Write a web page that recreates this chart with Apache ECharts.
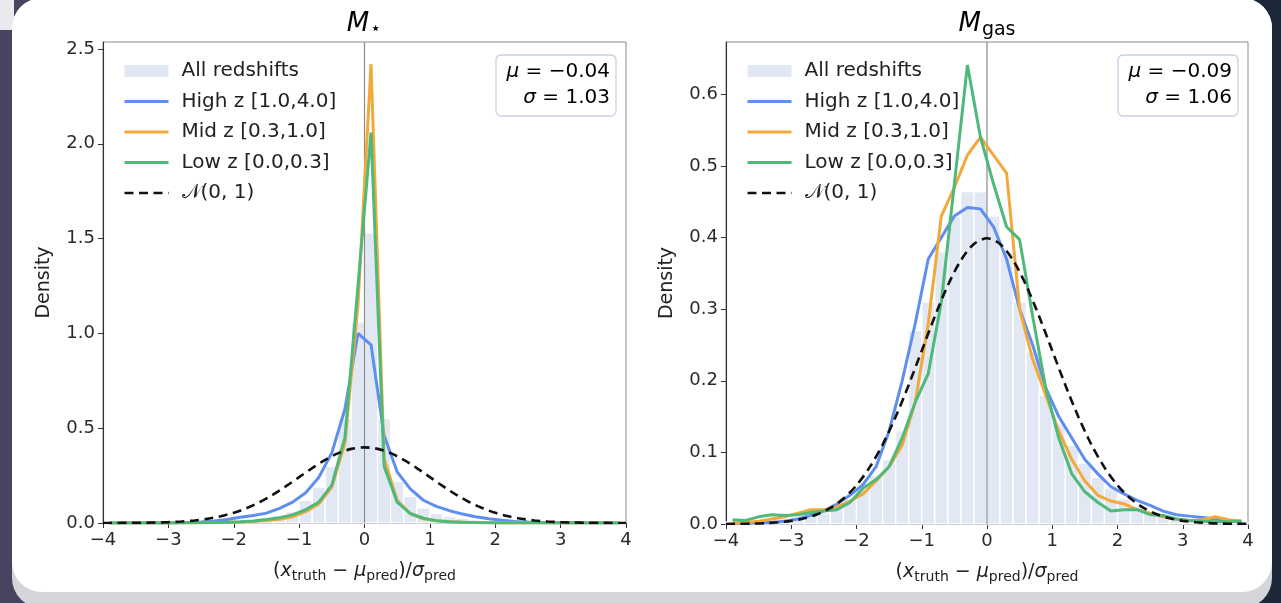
<!DOCTYPE html>
<html><head><meta charset="utf-8">
<script src="https://cdn.jsdelivr.net/npm/echarts@6/dist/echarts.min.js"></script>
<style>
html,body{margin:0;padding:0;width:1281px;height:603px;overflow:hidden;}
body{background:linear-gradient(90deg,#4a4360 0%,#3b3a52 40%,#2a3246 80%,#1c2738 100%);position:relative;}
#tl{position:absolute;left:0;top:0;width:14px;height:30px;background:#e9e9ee;}
#shadow{position:absolute;left:12px;top:-2px;width:1260px;height:610px;background:#d4d5d8;border-radius:30px;}
#card{position:absolute;left:12px;top:-2px;width:1260px;height:594px;background:#fff;border-radius:30px;}
#chart{position:absolute;left:0;top:0;width:1281px;height:603px;}
</style></head>
<body>
<div id="tl"></div><div id="shadow"></div><div id="card"></div>
<div id="chart"></div>
<script>
// ---------- data ----------
const binCenters = [-3.9,-3.7,-3.5,-3.3,-3.1,-2.9,-2.7,-2.5,-2.3,-2.1,-1.9,-1.7,-1.5,-1.3,-1.1,-0.9,-0.7,-0.5,-0.3,-0.1,
                    0.1,0.3,0.5,0.7,0.9,1.1,1.3,1.5,1.7,1.9,2.1,2.3,2.5,2.7,2.9,3.1,3.3,3.5,3.7,3.9];
const binWidth = 0.2;

// M_star panel
const starAll  = [0,0,0,0,0.001,0.001,0.002,0.003,0.005,0.008,0.012,0.018,0.027,0.04,0.06,0.12,0.19,0.30,0.55,1.06,
                  1.53,0.55,0.22,0.14,0.08,0.05,0.035,0.025,0.016,0.01,0.006,0.004,0.003,0.002,0.001,0.001,0,0,0,0];
const starHigh = [0,0,0,0,0,0.001,0.002,0.005,0.01,0.018,0.03,0.04,0.052,0.077,0.11,0.16,0.24,0.37,0.6,1.0,
                  0.94,0.46,0.27,0.18,0.12,0.088,0.065,0.047,0.033,0.022,0.014,0.008,0.005,0.003,0.002,0.001,0.001,0,0,0];
const starMid  = [0,0,0,0,0,0,0,0.001,0.002,0.003,0.005,0.008,0.013,0.02,0.033,0.06,0.1,0.19,0.42,1.15,
                  2.42,0.34,0.12,0.05,0.022,0.012,0.006,0.004,0.002,0.001,0,0,0,0,0,0,0,0,0,0];
const starLow  = [0,0,0,0,0,0,0.001,0.001,0.002,0.004,0.007,0.011,0.018,0.028,0.043,0.07,0.11,0.2,0.45,1.25,
                  2.06,0.30,0.11,0.05,0.025,0.012,0.007,0.004,0.002,0.001,0,0,0,0,0,0,0,0,0,0];

// M_gas panel
const gasAll  = [0.003,0.004,0.006,0.008,0.008,0.01,0.013,0.016,0.024,0.035,0.048,0.068,0.09,0.13,0.27,0.31,0.38,0.43,0.464,0.464,
                 0.43,0.38,0.31,0.24,0.18,0.14,0.11,0.085,0.065,0.05,0.035,0.025,0.018,0.012,0.008,0.006,0.005,0.004,0.003,0.002];
const gasHigh = [0.001,0.001,0.002,0.002,0.004,0.007,0.012,0.018,0.028,0.04,0.055,0.08,0.13,0.2,0.28,0.37,0.40,0.43,0.442,0.44,
                 0.415,0.37,0.30,0.25,0.19,0.15,0.12,0.09,0.07,0.052,0.042,0.033,0.026,0.018,0.013,0.011,0.009,0.007,0.005,0.004];
const gasMid  = [0.001,0.002,0.004,0.007,0.01,0.015,0.02,0.02,0.024,0.032,0.042,0.06,0.08,0.11,0.17,0.28,0.43,0.47,0.515,0.54,
                 0.515,0.49,0.30,0.23,0.18,0.13,0.09,0.06,0.04,0.032,0.028,0.02,0.015,0.01,0.007,0.005,0.006,0.01,0.006,0.004];
const gasLow  = [0.006,0.005,0.01,0.013,0.012,0.013,0.016,0.018,0.02,0.03,0.05,0.062,0.08,0.12,0.17,0.21,0.31,0.475,0.641,0.54,
                 0.475,0.415,0.397,0.29,0.19,0.12,0.07,0.045,0.03,0.018,0.02,0.02,0.013,0.012,0.007,0.005,0.004,0.003,0.003,0.004];

// standard normal density (tabulated)
const normX = [-4.0,-3.8,-3.6,-3.4,-3.2,-3.0,-2.8,-2.6,-2.4,-2.2,-2.0,-1.8,-1.6,-1.4,-1.2,-1.0,-0.8,-0.6,-0.4,-0.2,0.0,
               0.2,0.4,0.6,0.8,1.0,1.2,1.4,1.6,1.8,2.0,2.2,2.4,2.6,2.8,3.0,3.2,3.4,3.6,3.8,4.0];
const normY = [0.0001,0.0003,0.0006,0.0012,0.0024,0.0044,0.0079,0.0136,0.0224,0.0355,0.0540,0.0790,0.1109,0.1497,0.1942,0.2420,0.2897,0.3332,0.3683,0.3910,0.3989,
               0.3910,0.3683,0.3332,0.2897,0.2420,0.1942,0.1497,0.1109,0.0790,0.0540,0.0355,0.0224,0.0136,0.0079,0.0044,0.0024,0.0012,0.0006,0.0003,0.0001];

const seriesNames = ['All redshifts','High z [1.0,4.0]','Mid z [0.3,1.0]','Low z [0.0,0.3]','\u{1D4A9}(0, 1)'];
const xTicks = [-4,-3,-2,-1,0,1,2,3,4];
const starYTicks = [0,0.5,1.0,1.5,2.0,2.5];
const gasYTicks = [0,0.1,0.2,0.3,0.4,0.5,0.6];
const starYMax = 2.537, gasYMax = 0.673;
const starStats = {mu:'\u22120.04', sigma:'1.03'};
const gasStats  = {mu:'\u22120.09', sigma:'1.06'};

// ---------- styles ----------
const F = 'DejaVu Sans';
const C = {hist:'#e1e7f3', high:'#5e8ef0', mid:'#f3a93a', low:'#4fb97b', norm:'#111'};
const fmtTick = v => (v < 0 ? '\u2212' + Math.abs(v) : String(v));

function pairs(xs, ys){ return xs.map((x,i)=>[x, ys[i]]); }

function histItem(params, api){
  const x = api.value(0), y = api.value(1);
  const p0 = api.coord([x - binWidth/2, y]);
  const p1 = api.coord([x + binWidth/2, 0]);
  return {type:'rect', shape:{x:p0[0], y:p0[1], width:p1[0]-p0[0], height:p1[1]-p0[1]},
          style:{fill:C.hist, stroke:'#ffffff', lineWidth:1.3}};
}

function panelSeries(gi, all, high, mid, low, ymax){
  const base = {xAxisIndex:gi, yAxisIndex:gi};
  const line = (name, vals, color) => Object.assign({type:'line', name, data:pairs(binCenters, vals), symbol:'none',
      lineStyle:{color, width:3}, itemStyle:{color}, z:4, animation:false}, base);
  return [
    Object.assign({type:'custom', name:seriesNames[0], data:pairs(binCenters, all), renderItem:histItem,
      itemStyle:{color:C.hist}, encode:{x:0,y:1}, z:1, animation:false}, base),
    Object.assign({type:'line', name:'x0', data:[[0,0],[0,ymax]], symbol:'none',
      lineStyle:{color:'#8a8a8a', width:1.2}, z:2, silent:true, animation:false}, base),
    line(seriesNames[1], high, C.high),
    line(seriesNames[2], mid, C.mid),
    line(seriesNames[3], low, C.low),
    Object.assign({type:'line', name:seriesNames[4], data:pairs(normX, normY), symbol:'none', smooth:0.3,
      lineStyle:{color:C.norm, width:2.6, type:[9,5.5]}, itemStyle:{color:C.norm}, z:5, animation:false}, base)
  ];
}

const xNameRich = {
  t:{fontSize:19, fontFamily:F, color:'#222'},
  i:{fontSize:19, fontFamily:F, fontStyle:'italic', color:'#222'},
  s:{fontSize:14, fontFamily:F, color:'#222', padding:[9,0,0,0]}
};
const xName = '{t|(}{i|x}{s|truth}{t| \u2212 }{i|\u03bc}{s|pred}{t|)/}{i|\u03c3}{s|pred}';

function xAxis(gi){
  return {type:'value', gridIndex:gi, min:xTicks[0], max:xTicks[xTicks.length-1], interval:1,
    axisLine:{onZero:false, lineStyle:{color:'#333', width:1.1}},
    axisTick:{length:5, lineStyle:{color:'#333'}},
    axisLabel:{fontSize:18, fontFamily:F, color:'#2a2a2a', margin:8, formatter:fmtTick},
    splitLine:{show:false},
    name:xName, nameLocation:'middle', nameGap:37, nameTextStyle:{rich:xNameRich}};
}
function yAxis(gi, ymax, ticks){
  return {type:'value', gridIndex:gi, min:0, max:ymax,
    axisLine:{show:true, onZero:false, lineStyle:{color:'#333', width:1.1}},
    axisTick:{show:true, length:5, lineStyle:{color:'#333'}, customValues:ticks},
    axisLabel:{fontSize:18, fontFamily:F, color:'#2a2a2a', margin:8, customValues:ticks, formatter:v=>v.toFixed(1)},
    splitLine:{show:false},
    name:'Density', nameLocation:'middle', nameGap:49, nameRotate:90,
    nameTextStyle:{fontSize:19, fontFamily:F, color:'#222'}};
}

const hideSym = {opacity:0, color:'rgba(0,0,0,0)', borderWidth:0};
const legendData = [
  {name:seriesNames[0], icon:'rect'},
  {name:seriesNames[1], itemStyle:hideSym, lineStyle:{width:3}},
  {name:seriesNames[2], itemStyle:hideSym, lineStyle:{width:3}},
  {name:seriesNames[3], itemStyle:hideSym, lineStyle:{width:3}},
  {name:seriesNames[4], itemStyle:hideSym, lineStyle:{width:2.6}}
];
function legend(left){
  return {left, top:56, orient:'vertical', itemWidth:44, itemHeight:12, itemGap:10.5, selectedMode:false,
    data:legendData, textStyle:{fontSize:20, fontFamily:F, color:'#222', lineHeight:20, padding:[0,0,0,8]}};
}

function statsBox(x, y, st){
  const rich = {i:{fontSize:20, fontFamily:F, fontStyle:'italic', color:'#222'}, t:{fontSize:20, fontFamily:F, color:'#222'}};
  return [
    {type:'rect', shape:{x, y, width:120, height:61, r:5}, style:{fill:'#fff', stroke:'#c9d0e2', lineWidth:1.3}, z:10},
    {type:'text', x:x+114, y:y+17, z:11, style:{text:'{i|\u03bc}{t| = ' + st.mu + '}', rich, align:'right', verticalAlign:'middle'}},
    {type:'text', x:x+114, y:y+43, z:11, style:{text:'{i|\u03c3}{t| = ' + st.sigma + '}', rich, align:'right', verticalAlign:'middle'}}
  ];
}

const chart = echarts.init(document.getElementById('chart'), null, {renderer:'canvas'});
chart.setOption({
  animation:false,
  backgroundColor:'transparent',
  grid:[
    {left:103, right:655, top:42, bottom:80, show:true, borderColor:'#8a8a8a', borderWidth:1, backgroundColor:'transparent'},
    {left:726, right:33, top:42, bottom:79, show:true, borderColor:'#8a8a8a', borderWidth:1, backgroundColor:'transparent'}
  ],
  xAxis:[xAxis(0), xAxis(1)],
  yAxis:[yAxis(0, starYMax, starYTicks), yAxis(1, gasYMax, gasYTicks)],
  legend:[legend(118), legend(741)],
  graphic:[
    {type:'text', x:364, y:24, style:{text:'{i|M}{s|\u22c6}', align:'center', verticalAlign:'middle',
      rich:{i:{fontSize:26, fontFamily:F, fontStyle:'italic', color:'#111'}, s:{fontSize:18, fontFamily:F, color:'#111', padding:[10,0,0,1]}}}},
    {type:'text', x:987, y:24, style:{text:'{i|M}{s|gas}', align:'center', verticalAlign:'middle',
      rich:{i:{fontSize:26, fontFamily:F, fontStyle:'italic', color:'#111'}, s:{fontSize:19, fontFamily:F, color:'#111', padding:[13,0,0,1]}}}},
    ...statsBox(496, 55, starStats),
    ...statsBox(1118, 55, gasStats)
  ],
  series:[
    ...panelSeries(0, starAll, starHigh, starMid, starLow, starYMax),
    ...panelSeries(1, gasAll, gasHigh, gasMid, gasLow, gasYMax)
  ]
});
</script>
</body></html>
